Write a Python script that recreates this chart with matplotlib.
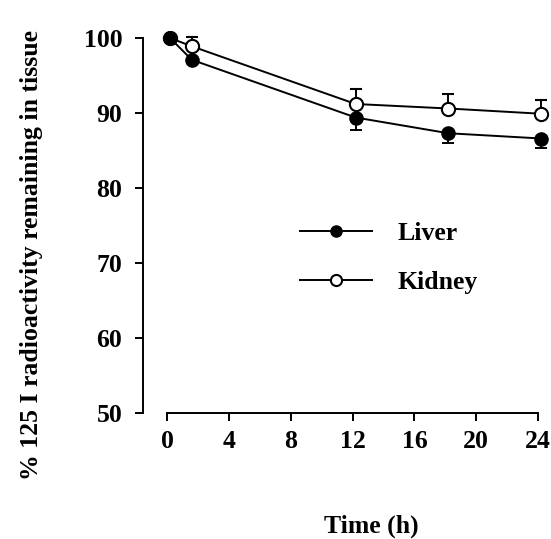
import numpy as np
import matplotlib
matplotlib.use('Agg')
import matplotlib.pyplot as plt
import matplotlib as mpl
from matplotlib.lines import Line2D

mpl.rcParams['font.family'] = 'Liberation Serif'
mpl.rcParams['font.weight'] = 'bold'

# values
time_h = [0.2, 1.6, 12.2, 18.2, 24.2]
liver = [100.0, 97.1, 89.4, 87.3, 86.6]
liver_err = [0.0, 0.0, 1.6, 1.3, 1.3]
kidney = [100.0, 98.9, 91.2, 90.6, 89.9]
kidney_err = [0.0, 1.2, 2.0, 2.0, 1.9]
xticks = [0, 4, 8, 12, 16, 20, 24]
yticks = [50, 60, 70, 80, 90, 100]

fs = 18.5

fig = plt.figure(figsize=(5.51, 5.39), dpi=100)
ax = fig.add_axes([0.2595, 0.2338, 0.7368, 0.7096])

zeros = np.zeros(len(time_h))
ax.errorbar(time_h, kidney, yerr=[zeros, kidney_err], color='black', lw=1.4,
            marker='o', ms=9.5, mfc='white', mec='black', mew=1.5,
            capsize=4, capthick=1.4, elinewidth=1.4, zorder=2)
ax.errorbar(time_h, liver, yerr=[liver_err, zeros], color='black', lw=1.4,
            marker='o', ms=9.5, mfc='black', mec='black',
            capsize=4, capthick=1.4, elinewidth=1.4, zorder=3)

ax.set_xlim(-1.55, 24.7)
ax.set_ylim(50, 101)
ax.set_xticks(xticks)
ax.set_yticks(yticks)

for s in ['top', 'right']:
    ax.spines[s].set_visible(False)
ax.spines['bottom'].set_bounds(0, 24)
ax.spines['left'].set_bounds(50, 100)
ax.spines['left'].set_linewidth(1.4)
ax.spines['bottom'].set_linewidth(1.4)
ax.tick_params(axis='both', direction='out', length=6, width=1.4, labelsize=fs)
ax.tick_params(axis='y', pad=9)
ax.tick_params(axis='x', pad=6)

handles = [Line2D([], [], color='black', lw=1.4, marker='o', ms=8, mfc='black', mec='black'),
           Line2D([], [], color='black', lw=1.4, marker='o', ms=8, mfc='white', mec='black', mew=1.5)]
ax.legend(handles, ['Liver', 'Kidney'], loc='center left',
          bbox_to_anchor=(300 / 551, 1 - 258 / 539), bbox_transform=fig.transFigure,
          frameon=False, fontsize=fs, numpoints=1, handlelength=2.8,
          handletextpad=1.0, labelspacing=1.05, borderpad=0, borderaxespad=0)

fig.text(32 / 551, 1 - 255 / 539, '% 125 I radioactivity remaining in tissue',
         rotation=90, ha='center', va='center', fontsize=fs, fontweight='bold')
fig.text(371 / 551, 1 - 526 / 539, 'Time (h)', ha='center', va='center',
         fontsize=fs, fontweight='bold')

fig.savefig('out.png', dpi=100)
